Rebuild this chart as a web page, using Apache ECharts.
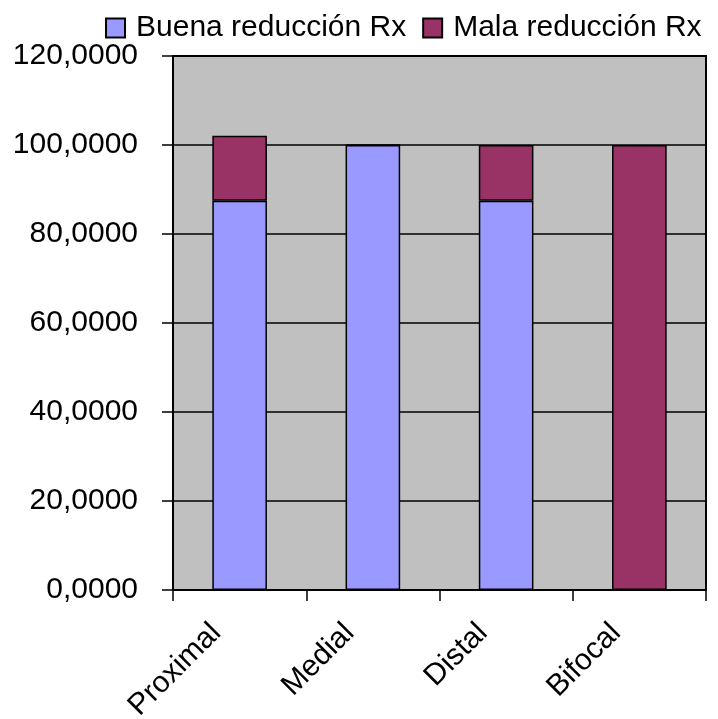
<!DOCTYPE html>
<html>
<head>
<meta charset="utf-8">
<script src="https://cdn.jsdelivr.net/npm/echarts@6/dist/echarts.min.js"></script>
<style>
html,body{margin:0;padding:0;background:#fff;}
#c{width:718px;height:719px;}
</style>
</head>
<body>
<div id="c"></div>
<script>
const categories = ['Proximal', 'Medial', 'Distal', 'Bifocal'];
const buena = [87.5, 100, 87.5, 0];
const mala = [14.6, 0, 12.5, 100];
const seriesNames = ['Buena reducción Rx', 'Mala reducción Rx'];
const yTicks = [0, 20, 40, 60, 80, 100, 120];

const FONT = '"Liberation Sans", Arial, sans-serif';
const chart = echarts.init(document.getElementById('c'));
chart.setOption({
  backgroundColor: '#ffffff',
  animation: false,
  legend: {
    data: seriesNames,
    left: 100,
    top: 8,
    itemWidth: 19,
    itemHeight: 19,
    itemGap: 16,
    icon: 'rect',
    textStyle: { fontFamily: FONT, fontSize: 30, color: '#000', padding: [0, 0, 0, 6] }
  },
  grid: {
    left: 173, right: 12, top: 56, bottom: 129,
    outerBoundsMode: 'none', containLabel: false,
    show: true, backgroundColor: '#C0C0C0', borderColor: '#000', borderWidth: 2
  },
  xAxis: {
    type: 'category',
    data: categories,
    axisLine: { lineStyle: { color: '#000', width: 2 } },
    axisTick: { show: true, length: 11, inside: false, lineStyle: { color: '#000', width: 1.5 } },
    axisLabel: { rotate: 45, margin: 15, padding: [0, 33, 0, 0], fontFamily: FONT, fontSize: 30, color: '#000' }
  },
  yAxis: {
    type: 'value',
    min: yTicks[0], max: yTicks[yTicks.length - 1], interval: 20,
    axisLine: { show: true, lineStyle: { color: '#000', width: 2 } },
    axisTick: { show: true, length: 11, lineStyle: { color: '#000', width: 1.5 } },
    splitLine: { show: true, lineStyle: { color: '#000', width: 1.5 } },
    axisLabel: {
      margin: 35, fontFamily: FONT, fontSize: 30, color: '#000',
      formatter: v => v.toFixed(4).replace('.', ',')
    }
  },
  series: [
    {
      name: seriesNames[0], type: 'bar', stack: 'a', data: buena, barWidth: '41%',
      itemStyle: { color: '#9999FF', borderColor: '#000', borderWidth: 1.5 }
    },
    {
      name: seriesNames[1], type: 'bar', stack: 'a', data: mala, barWidth: '41%',
      itemStyle: { color: '#993366', borderColor: '#000', borderWidth: 1.5 }
    }
  ]
});
</script>
</body>
</html>
